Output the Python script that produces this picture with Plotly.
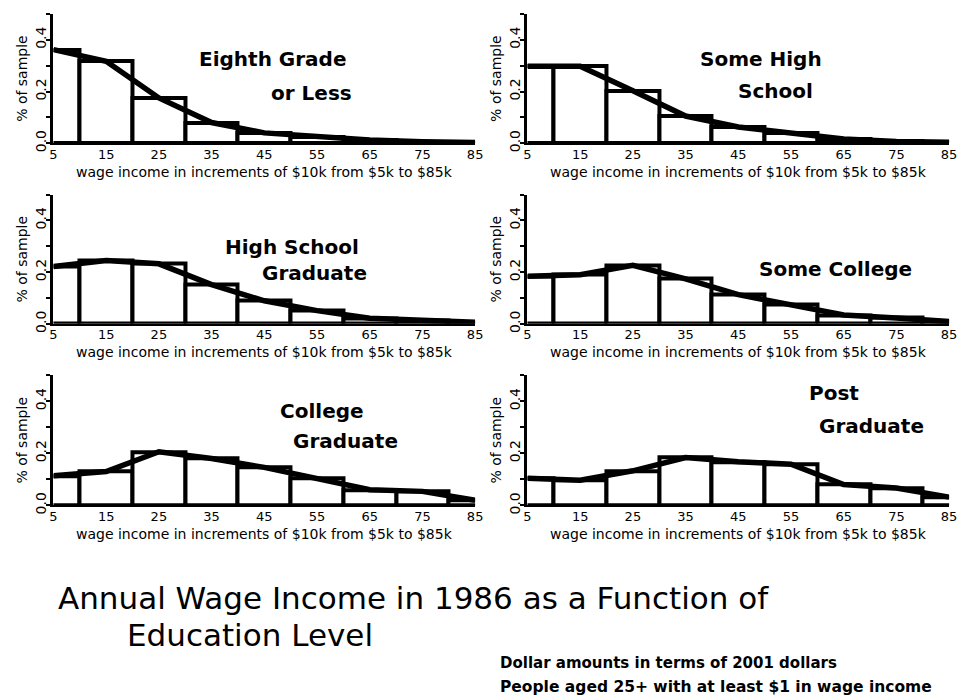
import plotly.graph_objects as go

# ---- data ----
bin_centers = [5, 15, 25, 35, 45, 55, 65, 75, 85]
x_ticks = [5, 15, 25, 35, 45, 55, 65, 75, 85]
x_tick_labels = ["5", "15", "25", "35", "45", "55", "65", "75", "85"]
y_ticks = [0.0, 0.2, 0.4]
y_tick_labels = ["0.0", "0.2", "0.4"]

eighth_grade = [0.362, 0.317, 0.175, 0.080, 0.040, 0.025, 0.012, 0.006, 0.003]
some_high_school = [0.298, 0.298, 0.203, 0.105, 0.063, 0.040, 0.016, 0.007, 0.004]
high_school_grad = [0.222, 0.245, 0.232, 0.152, 0.089, 0.051, 0.022, 0.013, 0.006]
some_college = [0.184, 0.190, 0.226, 0.174, 0.113, 0.075, 0.034, 0.023, 0.009]
college_grad = [0.114, 0.130, 0.206, 0.180, 0.146, 0.104, 0.060, 0.054, 0.020]
post_grad = [0.104, 0.097, 0.133, 0.184, 0.168, 0.158, 0.080, 0.067, 0.032]

panels = [
    (eighth_grade, ["Eighth Grade", "or Less"]),
    (some_high_school, ["Some High", "School"]),
    (high_school_grad, ["High School", "Graduate"]),
    (some_college, ["Some College"]),
    (college_grad, ["College", "Graduate"]),
    (post_grad, ["Post", "Graduate"]),
]

x_title = "wage income in increments of $10k from $5k to $85k"
y_title = "% of sample"
main_title_lines = ["Annual Wage Income in 1986 as a Function of", "Education Level"]
notes = ["Dollar amounts in terms of 2001 dollars",
         "People aged 25+ with at least $1 in wage income"]

# ---- layout geometry (window pixels; page body has an 8px margin) ----
OFF = 8
W, H = 966 - OFF, 700 - OFF


def px(X):
    return (X - OFF) / W


def py(Y):
    return 1 - (Y - OFF) / H


col_x = [(50, 477), (530, 957)]
row_y = [(14, 145), (197, 328), (380, 512)]
label_pos = [
    [(272, 60), (311, 94)],
    [(767, 60), (781, 92)],
    [(292, 250), (314, 276)],
    [(842, 272)],
    [(322, 416), (346, 447)],
    [(840, 398), (878, 432)],
]

FONT = "DejaVu Sans"
fig = go.Figure()
layout = dict(
    width=W, height=H,
    margin=dict(l=0, r=0, t=0, b=0),
    paper_bgcolor="white", plot_bgcolor="white",
    showlegend=False,
    font=dict(family=FONT, color="black", size=14),
    bargap=0,
)
annotations = []

for i, (vals, title) in enumerate(panels):
    r, c = divmod(i, 2)
    n = "" if i == 0 else str(i + 1)
    xa, ya = "x" + n, "y" + n
    fig.add_trace(go.Bar(
        x=bin_centers, y=vals, width=10, xaxis=xa, yaxis=ya,
        marker=dict(color="white", line=dict(color="black", width=4)),
        hoverinfo="skip",
    ))
    fig.add_trace(go.Scatter(
        x=bin_centers, y=vals, mode="lines", xaxis=xa, yaxis=ya,
        line=dict(color="black", width=5.5), hoverinfo="skip",
    ))
    x0, x1 = col_x[c]
    y0, y1 = row_y[r]
    layout["xaxis" + n] = dict(
        domain=[px(x0), px(x1)], anchor=ya, range=[5, 85],
        tickvals=x_ticks, ticktext=x_tick_labels, ticks="",
        showline=True, linecolor="black", linewidth=2,
        showgrid=False, zeroline=False, tickfont=dict(size=13),
        ticklabelstandoff=-2,
        fixedrange=True,
    )
    layout["yaxis" + n] = dict(
        domain=[py(y1), py(y0)], anchor=xa, range=[0, 0.5],
        tickvals=y_ticks, ticktext=y_tick_labels, tickangle=-90,
        ticks="outside", ticklen=4, tickwidth=2, tickcolor="black",
        ticklabelstandoff=-5,
        minor=dict(dtick=0.1, ticks="outside", ticklen=4, tickwidth=2, tickcolor="black"),
        showline=True, linecolor="black", linewidth=3,
        showgrid=False, zeroline=False, tickfont=dict(size=14),
        title=dict(text=y_title, font=dict(size=14), standoff=2),
        fixedrange=True,
    )
    # x-axis title placed just below the tick labels
    annotations.append(dict(
        text=x_title, x=px((x0 + x1) / 2), y=py(y1 + 29), xref="paper", yref="paper",
        showarrow=False, xanchor="center", yanchor="middle",
        font=dict(family=FONT, size=14, color="black"),
    ))
    for txt, (lx, ly) in zip(title, label_pos[i]):
        annotations.append(dict(
            text=txt, x=px(lx), y=py(ly), xref="paper", yref="paper",
            showarrow=False, xanchor="center", yanchor="middle",
            font=dict(family=FONT, size=20, weight="bold", color="black"),
        ))

annotations.append(dict(text=main_title_lines[0], x=px(53), y=py(606),
                        xref="paper", yref="paper", showarrow=False,
                        xanchor="left", yanchor="middle",
                        font=dict(family=FONT, size=31, color="black")))
annotations.append(dict(text=main_title_lines[1], x=px(122), y=py(643),
                        xref="paper", yref="paper", showarrow=False,
                        xanchor="left", yanchor="middle",
                        font=dict(family=FONT, size=31, color="black")))
annotations.append(dict(text=notes[0], x=px(500), y=py(672),
                        xref="paper", yref="paper", showarrow=False,
                        xanchor="left", yanchor="middle",
                        font=dict(family=FONT, size=15, weight="bold", color="black")))
annotations.append(dict(text=notes[1], x=px(500), y=py(696),
                        xref="paper", yref="paper", showarrow=False,
                        xanchor="left", yanchor="middle",
                        font=dict(family=FONT, size=15.5, weight="bold", color="black")))

layout["annotations"] = annotations
fig.update_layout(**layout)
fig.write_html("out.html")
